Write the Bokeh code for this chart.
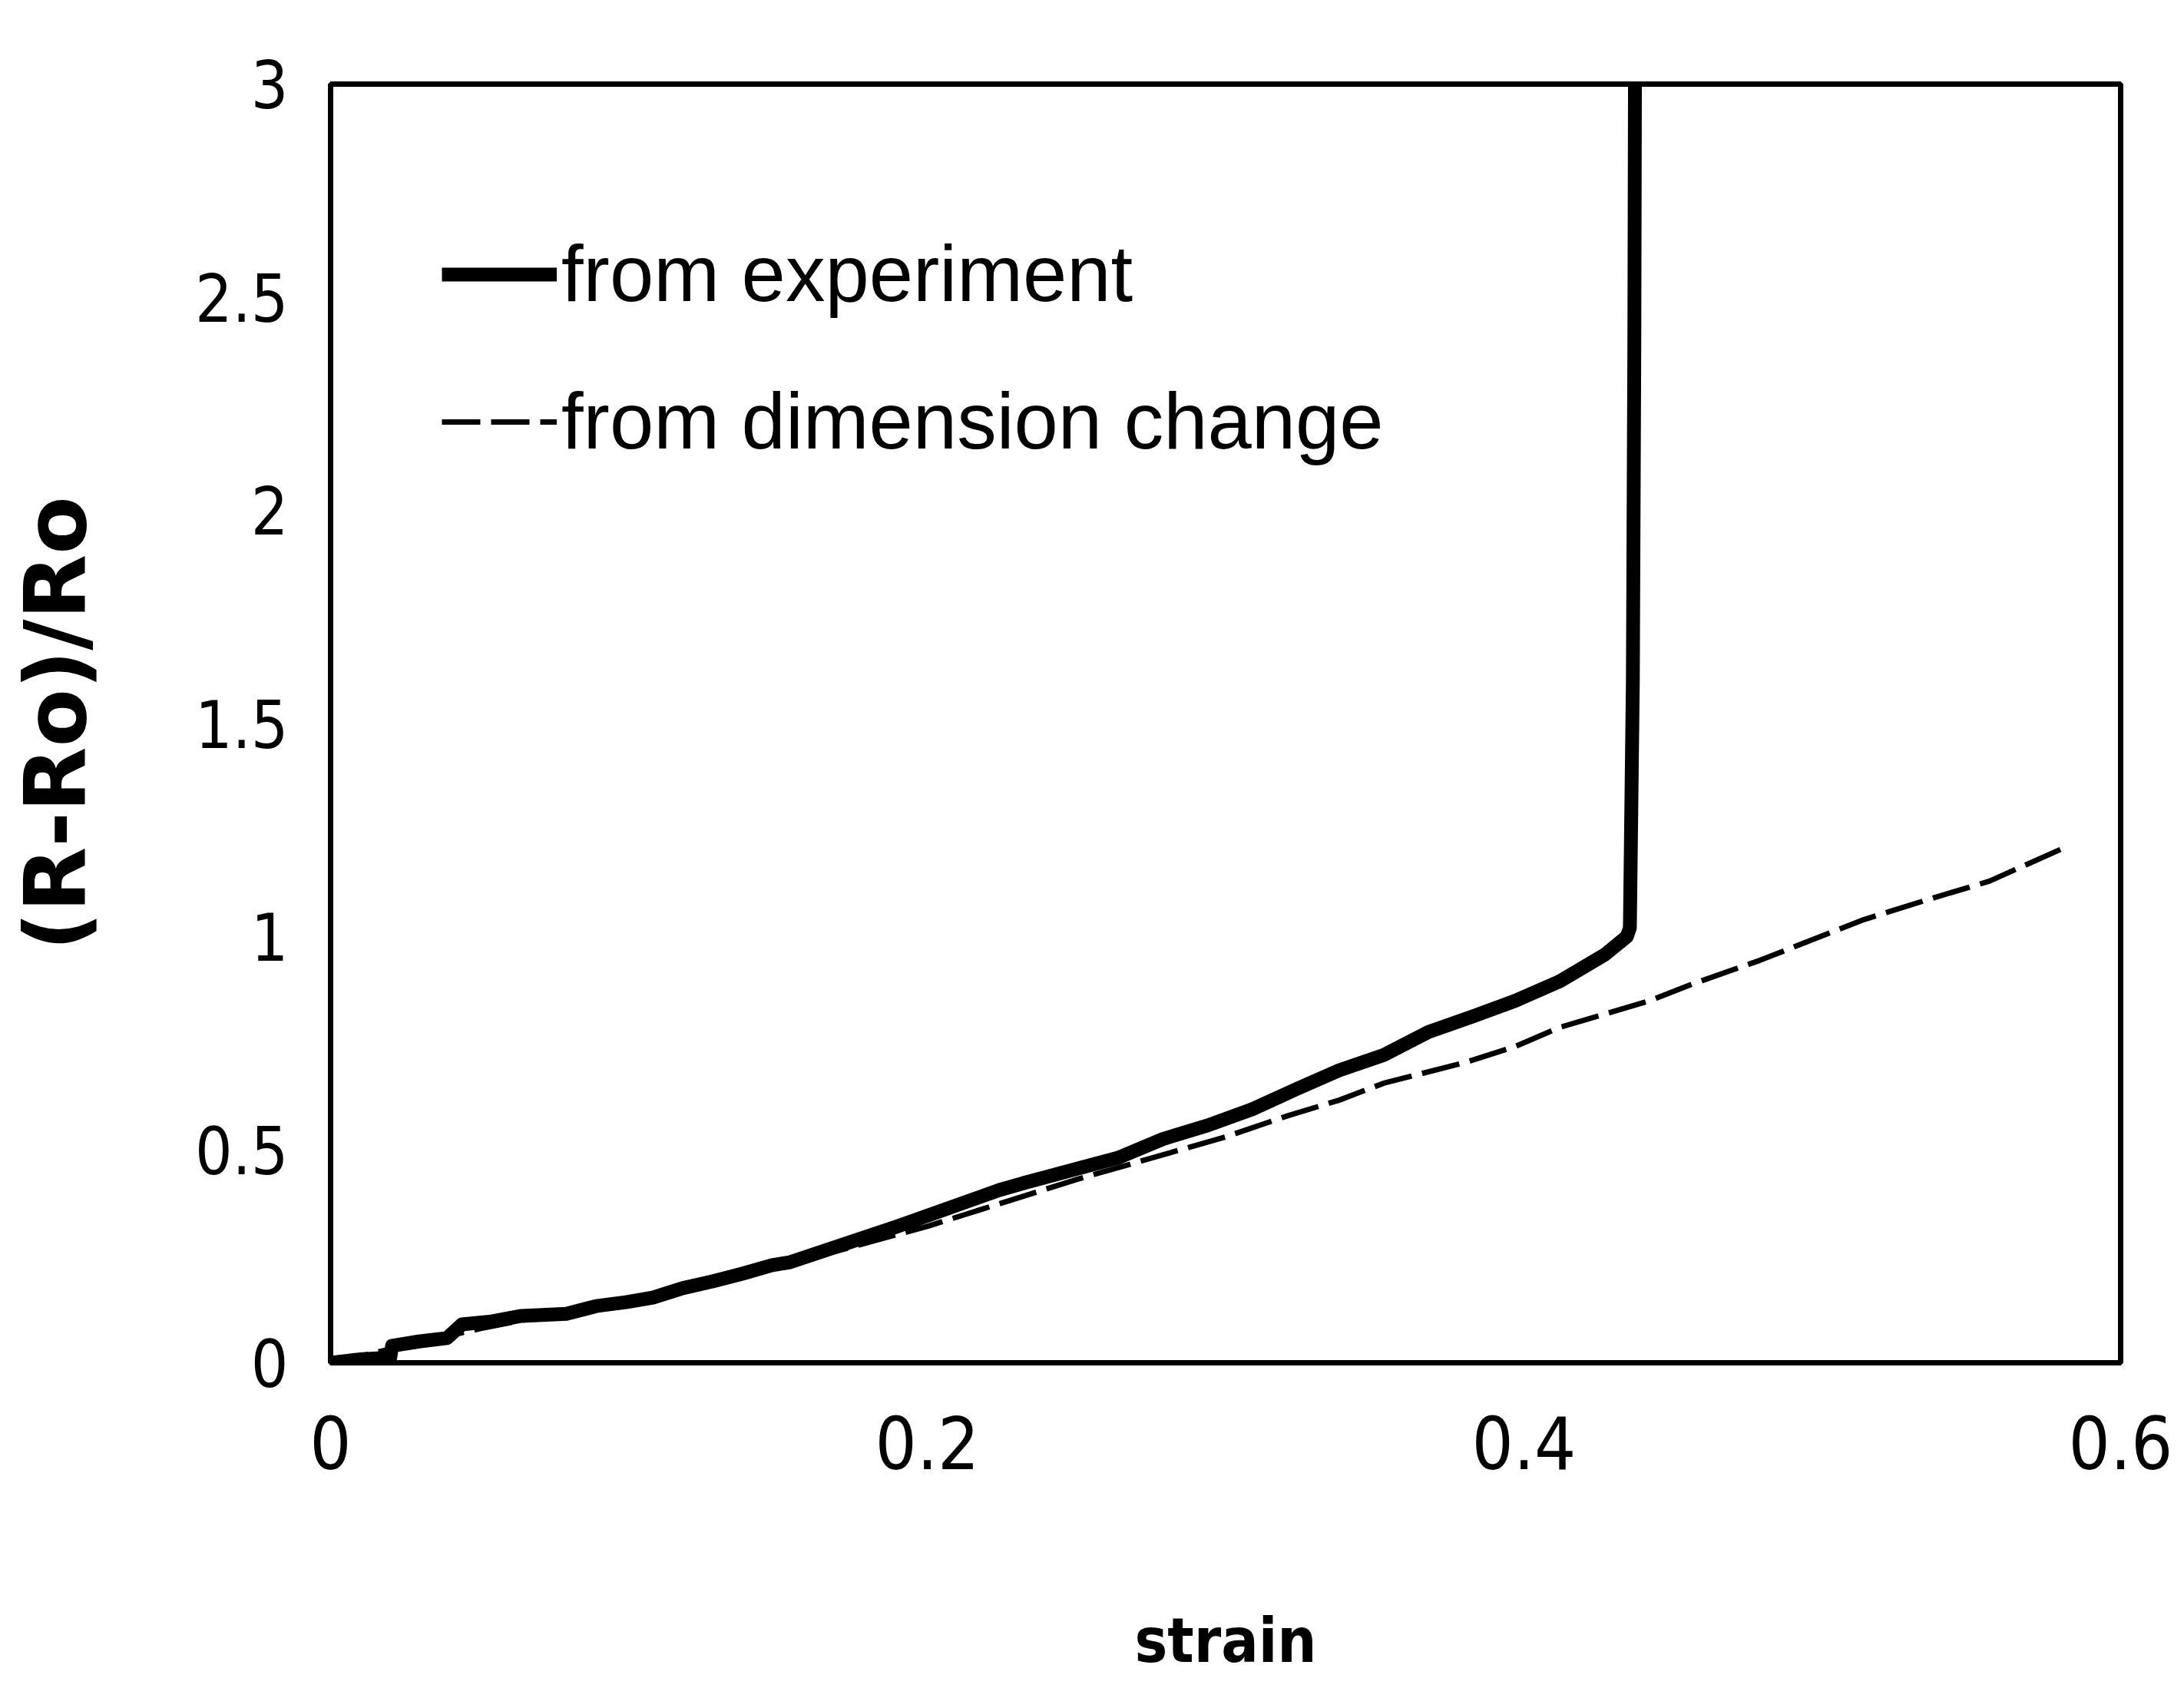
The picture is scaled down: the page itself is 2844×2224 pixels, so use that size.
from bokeh.plotting import figure
from bokeh.models import Range1d, FixedTicker, Legend, LegendItem
from bokeh.embed import file_html
from bokeh.resources import INLINE

# ---- data ----
x_ticks = [0, 0.2, 0.4, 0.6]
x_tick_labels = ["0", "0.2", "0.4", "0.6"]
y_ticks = [0, 0.5, 1, 1.5, 2, 2.5, 3]
y_tick_labels = ["0", "0.5", "1", "1.5", "2", "2.5", "3"]

strain_exp = [0.000, 0.010, 0.020, 0.0206, 0.0296, 0.039, 0.044, 0.054, 0.064,
              0.079, 0.089, 0.099, 0.108, 0.118, 0.128, 0.138, 0.148, 0.154,
              0.190, 0.224, 0.233, 0.250, 0.264, 0.279, 0.294, 0.309, 0.324,
              0.338, 0.353, 0.368, 0.383, 0.397, 0.412, 0.427, 0.4345, 0.4355,
              0.4365, 0.4370, 0.4372]
resist_exp = [0.000, 0.008, 0.012, 0.040, 0.050, 0.058, 0.090, 0.097, 0.110,
              0.115, 0.133, 0.142, 0.153, 0.175, 0.191, 0.209, 0.229, 0.236,
              0.320, 0.405, 0.423, 0.455, 0.481, 0.525, 0.557, 0.595, 0.643,
              0.686, 0.722, 0.776, 0.813, 0.849, 0.895, 0.957, 1.000, 1.020,
              1.600, 2.400, 3.000]

strain_dim = [0.0, 0.05, 0.10, 0.15, 0.20, 0.25, 0.30, 0.321, 0.338, 0.353,
              0.380, 0.397, 0.412, 0.427, 0.442, 0.457, 0.479, 0.514, 0.536,
              0.556, 0.580]
resist_dim = [0.0, 0.08, 0.15, 0.225, 0.32, 0.43, 0.53, 0.580, 0.616, 0.656,
              0.704, 0.742, 0.787, 0.818, 0.849, 0.890, 0.944, 1.040, 1.088,
              1.130, 1.205]

series_labels = ["from experiment", "from dimension change"]
x_title = "strain"
y_title = "(R-Ro)/Ro"

p = figure(width=2844, height=2224, output_backend="svg", toolbar_location=None,
           x_range=Range1d(0, 0.6), y_range=Range1d(0, 3),
           min_border_left=430, min_border_right=83,
           min_border_top=109, min_border_bottom=450)

p.background_fill_color = "white"
p.border_fill_color = "white"
p.outline_line_color = "black"
p.outline_line_width = 7
p.xgrid.visible = False
p.ygrid.visible = False

r_dim = p.line(strain_dim, resist_dim, line_color="black", line_width=7,
               line_dash="50 14")
r_exp = p.line(strain_exp, resist_exp, line_color="black", line_width=18,
               line_join="round")

for ax in (p.xaxis[0], p.yaxis[0]):
    ax.axis_line_color = "black"
    ax.axis_line_width = 7
    ax.major_tick_out = 0
    ax.major_tick_in = 0
    ax.minor_tick_out = 0
    ax.minor_tick_in = 0
    ax.major_label_text_font = "DejaVu Sans Condensed"
    ax.major_label_text_color = "black"
    ax.axis_label_text_color = "black"
    ax.axis_label_text_font_style = "bold"

p.xaxis.ticker = FixedTicker(ticks=x_ticks)
p.xaxis.major_label_overrides = {t: l for t, l in zip(x_ticks, x_tick_labels)}
p.yaxis.ticker = FixedTicker(ticks=y_ticks)
p.yaxis.major_label_overrides = {t: l for t, l in zip(y_ticks, y_tick_labels)}

p.xaxis.major_label_text_font_size = "95px"
p.xaxis.axis_label = x_title
p.xaxis.axis_label_text_font = "DejaVu Sans Condensed"
p.xaxis.axis_label_text_font_size = "80px"
p.xaxis.major_label_standoff = 69
p.xaxis.axis_label_standoff = 174

p.yaxis.major_label_text_font_size = "85px"
p.yaxis.axis_label = y_title
p.yaxis.axis_label_text_font = "DejaVu Sans"
p.yaxis.axis_label_text_font_size = "110px"
p.yaxis.major_label_standoff = 55
p.yaxis.axis_label_standoff = 114

legend = Legend(items=[LegendItem(label=series_labels[0], renderers=[r_exp]),
                       LegendItem(label=series_labels[1], renderers=[r_dim])],
                location=(145, 1160))
legend.glyph_width = 150
legend.glyph_height = 130
legend.label_height = 130
legend.label_standoff = 6
legend.spacing = 62
legend.padding = 0
legend.margin = 0
legend.border_line_color = None
legend.background_fill_alpha = 0
legend.label_text_font = "Liberation Sans"
legend.label_text_font_size = "103px"
legend.label_text_color = "black"
p.add_layout(legend)

open("out.html", "w").write(file_html(p, INLINE))
